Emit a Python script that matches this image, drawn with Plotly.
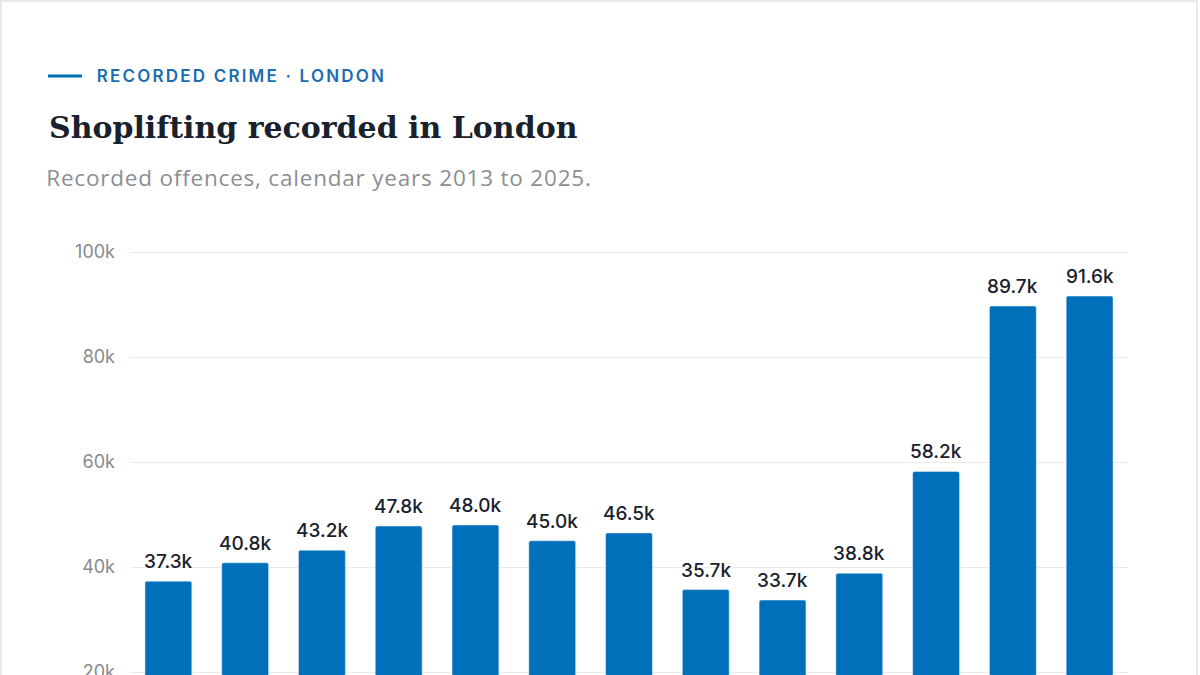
import plotly.graph_objects as go

years = ["2013", "2014", "2015", "2016", "2017", "2018", "2019",
         "2020", "2021", "2022", "2023", "2024", "2025"]
offences = [37300, 40800, 43200, 47800, 48000, 45000, 46500,
            35700, 33700, 38800, 58200, 89700, 91600]
y_ticks = [20000, 40000, 60000, 80000, 100000]

BLUE = "#0070ba"
INK = "#18212c"
GREY = "#858a90"

W, H = 1200, 675
L, R, T, B = 130, 72, 240, 0
# 20k steps are 105px apart; 100k sits 12px below the plot top
PX_PER_UNIT = 105 / 20000
y_max = 100000 + 12 / PX_PER_UNIT
y_min = y_max - (H - T - B) / PX_PER_UNIT

fig = go.Figure()
fig.add_trace(go.Bar(
    x=years,
    y=offences,
    marker=dict(color=BLUE, cornerradius=2),
    hoverinfo="x+y",
))

# value labels; x given as category index so it isn't read as a number
for i, v in enumerate(offences):
    fig.add_annotation(
        x=i, y=v, xref="x", yref="y",
        text=f"{v / 1000:.1f}k", showarrow=False,
        yanchor="bottom", yshift=6,
        font=dict(family="Inter", size=19, color=INK, weight=500),
    )

# header block, placed in pixels relative to the plot's top-left corner
fig.add_annotation(
    xref="paper", yref="paper", x=0, y=1, xanchor="center", yanchor="middle",
    xshift=241.5 - L, yshift=T - 76, showarrow=False,
    text="RECORDED CRIME · LONDON",
    font=dict(family="Inter", size=17, color="#1a6db3", weight=600),
)
fig.add_annotation(
    xref="paper", yref="paper", x=0, y=1, xanchor="left", yanchor="middle",
    xshift=47 - L, yshift=T - 127, showarrow=False,
    text="Shoplifting recorded in London",
    font=dict(family="DejaVu Serif", size=30, color=INK, weight=700),
)
fig.add_annotation(
    xref="paper", yref="paper", x=0, y=1, xanchor="center", yanchor="middle",
    xshift=319 - L, yshift=T - 177, showarrow=False,
    text="Recorded offences, calendar years 2013 to 2025.",
    font=dict(family="Open Sans", size=22.5, color="#8a8f94"),
)

fig.add_shape(
    type="line", xref="paper", yref="paper",
    xsizemode="pixel", ysizemode="pixel", xanchor=0, yanchor=1,
    x0=48 - L, x1=82 - L, y0=T - 76, y1=T - 76,
    line=dict(color=BLUE, width=3),
)
fig.add_shape(
    type="rect", xref="paper", yref="paper",
    xsizemode="pixel", ysizemode="pixel", xanchor=0, yanchor=1,
    x0=1 - L, x1=1197 - L, y0=T - 1, y1=T - 800,
    line=dict(color="#dfe2e5", width=1.5), layer="below",
)

fig.update_layout(
    width=W, height=H,
    margin=dict(l=L, r=R, t=T, b=B),
    paper_bgcolor="white", plot_bgcolor="white",
    bargap=0.39, showlegend=False,
    font=dict(family="Inter", color=GREY),
)
fig.update_xaxes(type="category", range=[-0.5, len(years) - 0.5],
                 showticklabels=False, showgrid=False, automargin=False,
                 ticks="", showline=False, zeroline=False)
fig.update_yaxes(range=[y_min, y_max], tickvals=y_ticks, tickformat="~s",
                 gridcolor="#e9ebee", gridwidth=1, zeroline=False,
                 showline=False, ticks="", ticklabelstandoff=14,
                 ticklabeloverflow="allow", automargin=False,
                 tickfont=dict(family="Inter", size=18, color=GREY))

# page margin off, and letter tracking for the two header lines
post = """
document.body.style.margin = '0';
document.querySelectorAll('.annotation-text').forEach(function (t) {
  var s = t.textContent;
  if (s.indexOf('RECORDED CRIME') === 0) t.style.letterSpacing = '2.2px';
  if (s.indexOf('Recorded offences') === 0) t.style.letterSpacing = '0.8px';
});
"""
fig.write_html("out.html", post_script=post,
               config={"displayModeBar": False})
